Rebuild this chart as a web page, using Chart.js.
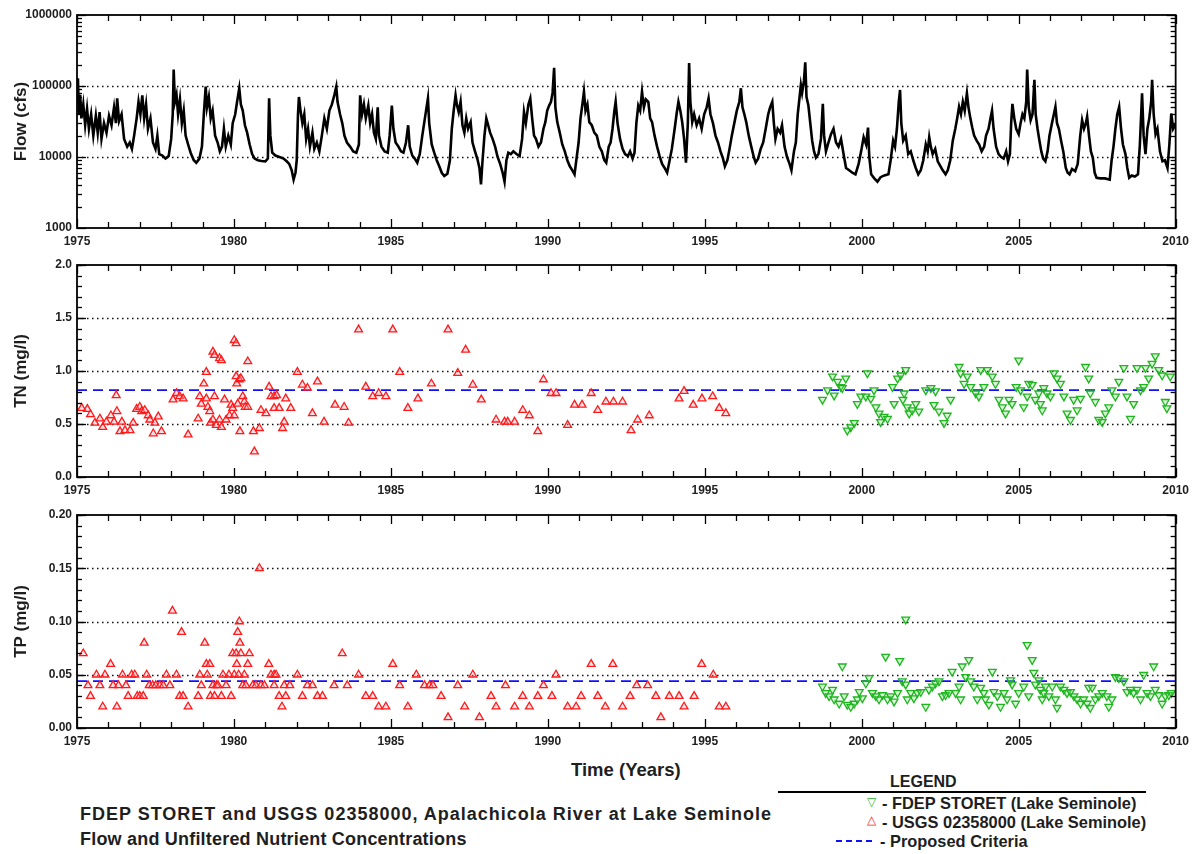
<!DOCTYPE html>
<html>
<head>
<meta charset="utf-8">
<script src="https://cdn.jsdelivr.net/npm/chart.js@4.4.0/dist/chart.umd.min.js"></script>
<style>
  body { margin: 0; background: #fff; font-family: "Liberation Sans", Arial, sans-serif; }
  #page { position: relative; width: 1195px; height: 854px; overflow: hidden; }
  #page canvas { position: absolute; left: 0; }
  .txt { position: absolute; white-space: nowrap; color: #1e1e1e; font-weight: bold; }
</style>
</head>
<body>
<div id="page">
  <canvas id="flowChart" width="1195" height="252" style="top:0"></canvas>
  <canvas id="tnChart" width="1195" height="262" style="top:240px"></canvas>
  <canvas id="tpChart" width="1195" height="262" style="top:490px"></canvas>

  <div class="txt" style="left:571px;top:759px;font-size:18.5px">Time (Years)</div>

  <div class="txt" style="left:80px;top:804px;font-size:18px;letter-spacing:1px">FDEP STORET and USGS 02358000, Apalachicola River at Lake Seminole</div>
  <div class="txt" style="left:80px;top:829px;font-size:18px;letter-spacing:0.2px">Flow and Unfiltered Nutrient Concentrations</div>

  <div class="txt" style="left:890px;top:773px;font-size:16px">LEGEND</div>
  <div style="position:absolute;left:778px;top:791px;width:368px;border-top:2px solid #000"></div>
  <div class="txt" style="left:867px;top:795px;font-size:12px;color:#1fb51f;font-weight:normal">&#9661;</div>
  <div class="txt" style="left:882px;top:794px;font-size:16.4px">- FDEP STORET (Lake Seminole)</div>
  <div class="txt" style="left:867px;top:813px;font-size:12px;color:#ff1a1a;font-weight:normal">&#9651;</div>
  <div class="txt" style="left:882px;top:813px;font-size:16.4px">- USGS 02358000 (Lake Seminole)</div>
  <div style="position:absolute;left:836px;top:840px;width:36px;border-top:2px dashed #1010ff"></div>
  <div class="txt" style="left:880px;top:832px;font-size:16.4px">- Proposed Criteria</div>
</div>

<script>
// axis tick labels
const yearTicks = [1975, 1980, 1985, 1990, 1995, 2000, 2005, 2010];
const flowTicks = [1000, 10000, 100000, 1000000];
const tnTicks = [0, 0.5, 1.0, 1.5, 2.0];
const tpTicks = [0, 0.05, 0.10, 0.15, 0.20];

// proposed criteria
const tnCriteria = 0.82;
const tpCriteria = 0.044;

// flow at the dam, [year, cfs]
const flowSeries = [
  [1975.00,60000],[1975.03,128000],[1975.06,40000],[1975.10,75000],[1975.14,35000],[1975.20,55000],[1975.26,28000],
  [1975.32,48000],[1975.38,25000],[1975.45,40000],[1975.52,20000],[1975.60,38000],[1975.66,22000],[1975.72,43000],
  [1975.78,18000],[1975.86,30000],[1975.94,22000],[1976.02,38000],[1976.10,28000],[1976.18,50000],[1976.24,30000],
  [1976.28,67000],[1976.34,32000],[1976.42,40000],[1976.50,18000],[1976.60,14000],[1976.68,16000],[1976.75,13000],
  [1976.82,20000],[1976.90,35000],[1976.96,60000],[1977.02,40000],[1977.08,74000],[1977.14,35000],[1977.20,55000],
  [1977.26,25000],[1977.34,35000],[1977.42,16000],[1977.50,13000],[1977.56,20000],[1977.62,11000],[1977.72,10500],
  [1977.82,9500],[1977.92,10300],[1978.00,18000],[1978.05,40000],[1978.08,170000],[1978.12,60000],[1978.17,75000],
  [1978.22,40000],[1978.28,65000],[1978.34,30000],[1978.40,45000],[1978.46,20000],[1978.54,15000],[1978.62,11500],
  [1978.72,9000],[1978.80,8300],[1978.90,9500],[1978.98,14000],[1979.04,40000],[1979.10,98000],[1979.14,50000],
  [1979.20,70000],[1979.26,35000],[1979.32,45000],[1979.40,20000],[1979.48,16000],[1979.55,12000],[1979.62,14000],
  [1979.68,25000],[1979.74,14000],[1979.82,20000],[1979.90,15000],[1979.96,30000],[1980.04,40000],[1980.10,60000],
  [1980.17,93000],[1980.22,55000],[1980.28,45000],[1980.35,28000],[1980.42,22000],[1980.50,15000],[1980.58,11000],
  [1980.66,9500],[1980.76,9000],[1980.88,8800],[1981.00,8700],[1981.08,9500],[1981.12,67000],[1981.16,20000],
  [1981.22,11500],[1981.32,10500],[1981.45,10000],[1981.58,9500],[1981.68,8700],[1981.76,8000],[1981.84,6500],
  [1981.90,4800],[1981.96,6000],[1982.00,9000],[1982.04,40000],[1982.07,70000],[1982.12,45000],[1982.18,30000],
  [1982.24,40000],[1982.30,18000],[1982.36,25000],[1982.42,14000],[1982.50,22000],[1982.56,13000],[1982.64,16000],
  [1982.72,12000],[1982.80,20000],[1982.88,35000],[1982.96,25000],[1983.04,45000],[1983.12,55000],[1983.20,75000],
  [1983.26,98000],[1983.30,60000],[1983.38,40000],[1983.45,30000],[1983.52,20000],[1983.60,16000],[1983.70,14000],
  [1983.80,12000],[1983.90,11500],[1983.98,15000],[1984.02,74000],[1984.08,40000],[1984.14,55000],[1984.20,35000],
  [1984.28,53000],[1984.34,30000],[1984.40,40000],[1984.46,22000],[1984.52,18000],[1984.58,50000],[1984.62,20000],
  [1984.70,14000],[1984.80,12000],[1984.90,11500],[1984.96,20000],[1985.03,53000],[1985.08,25000],[1985.15,16000],
  [1985.24,14000],[1985.32,12000],[1985.40,11500],[1985.48,16000],[1985.55,28000],[1985.60,14000],[1985.68,10500],
  [1985.76,9500],[1985.84,8300],[1985.92,11000],[1986.00,20000],[1986.06,30000],[1986.12,45000],[1986.18,67000],
  [1986.22,30000],[1986.30,15000],[1986.38,11500],[1986.46,9000],[1986.54,7400],[1986.62,6000],[1986.70,5400],
  [1986.80,5800],[1986.88,9000],[1986.94,25000],[1987.00,45000],[1987.06,74000],[1987.10,55000],[1987.16,43000],
  [1987.22,60000],[1987.28,28000],[1987.34,22000],[1987.40,35000],[1987.46,25000],[1987.54,31000],[1987.60,16000],
  [1987.68,12000],[1987.76,9200],[1987.82,7000],[1987.87,4100],[1987.92,9000],[1987.98,20000],[1988.04,35000],
  [1988.10,28000],[1988.16,22000],[1988.24,18000],[1988.32,14000],[1988.40,10000],[1988.48,8000],[1988.56,6000],
  [1988.62,4500],[1988.68,9000],[1988.74,11500],[1988.82,11000],[1988.90,12000],[1989.00,11000],[1989.10,10300],
  [1989.18,18000],[1989.24,43000],[1989.30,30000],[1989.38,55000],[1989.44,67000],[1989.50,35000],[1989.56,20000],
  [1989.62,18000],[1989.70,14000],[1989.78,16000],[1989.86,25000],[1989.92,31000],[1989.98,45000],[1990.04,53000],
  [1990.10,60000],[1990.15,80000],[1990.20,180000],[1990.24,50000],[1990.30,31000],[1990.38,22000],[1990.46,15000],
  [1990.54,12000],[1990.62,9000],[1990.70,7400],[1990.78,6500],[1990.85,5700],[1990.92,10000],[1990.98,16000],
  [1991.04,35000],[1991.10,55000],[1991.15,83000],[1991.20,45000],[1991.26,55000],[1991.32,31000],[1991.40,28000],
  [1991.48,22000],[1991.56,20000],[1991.64,14000],[1991.72,12000],[1991.80,9000],[1991.86,8300],[1991.94,14000],
  [1992.00,16000],[1992.06,25000],[1992.12,45000],[1992.16,60000],[1992.22,30000],[1992.30,18000],[1992.38,13000],
  [1992.46,11000],[1992.55,10300],[1992.62,12000],[1992.70,9500],[1992.76,11500],[1992.82,30000],[1992.88,53000],
  [1992.94,45000],[1993.00,83000],[1993.06,50000],[1993.12,65000],[1993.20,60000],[1993.26,35000],[1993.32,31000],
  [1993.40,20000],[1993.48,14000],[1993.56,10300],[1993.64,8000],[1993.72,7000],[1993.80,6000],[1993.88,9000],
  [1993.95,13000],[1994.04,25000],[1994.10,40000],[1994.16,60000],[1994.22,45000],[1994.28,31000],[1994.34,18000],
  [1994.40,8300],[1994.46,30000],[1994.50,210000],[1994.54,60000],[1994.60,31000],[1994.66,40000],[1994.74,28000],
  [1994.82,35000],[1994.90,25000],[1994.98,40000],[1995.06,50000],[1995.12,67000],[1995.18,40000],[1995.26,30000],
  [1995.34,20000],[1995.42,16000],[1995.50,12000],[1995.58,9500],[1995.64,7400],[1995.72,9000],[1995.80,14000],
  [1995.86,20000],[1995.94,30000],[1996.02,45000],[1996.10,60000],[1996.15,93000],[1996.20,50000],[1996.26,40000],
  [1996.32,31000],[1996.40,20000],[1996.48,14000],[1996.56,10000],[1996.62,8300],[1996.70,9500],[1996.78,13000],
  [1996.86,16000],[1996.94,25000],[1997.02,40000],[1997.08,50000],[1997.15,60000],[1997.20,30000],[1997.25,18000],
  [1997.32,25000],[1997.40,22000],[1997.46,28000],[1997.54,14000],[1997.62,10000],[1997.70,8000],[1997.76,6500],
  [1997.84,12000],[1997.90,16000],[1997.96,40000],[1998.02,70000],[1998.06,103000],[1998.10,80000],[1998.16,120000],
  [1998.20,215000],[1998.24,70000],[1998.30,53000],[1998.36,30000],[1998.42,17000],[1998.48,12000],[1998.54,9800],
  [1998.62,11000],[1998.70,18000],[1998.76,56000],[1998.80,20000],[1998.86,12000],[1998.94,16000],[1999.02,21000],
  [1999.10,25000],[1999.18,16000],[1999.26,14000],[1999.34,18000],[1999.42,11000],[1999.50,7000],[1999.60,6500],
  [1999.70,6000],[1999.80,5700],[1999.90,8000],[1999.98,12000],[2000.06,19000],[2000.14,15000],[2000.20,26000],
  [2000.24,10000],[2000.30,5700],[2000.40,5000],[2000.50,4500],[2000.60,5200],[2000.72,5500],[2000.85,5700],
  [2000.92,9000],[2001.00,17000],[2001.06,14000],[2001.12,25000],[2001.18,60000],[2001.22,88000],[2001.26,30000],
  [2001.32,17000],[2001.40,20000],[2001.48,11000],[2001.56,12000],[2001.64,9000],[2001.72,7000],[2001.80,5700],
  [2001.88,6500],[2001.96,9000],[2002.04,15000],[2002.10,12000],[2002.15,19000],[2002.20,14000],[2002.26,11000],
  [2002.34,13000],[2002.42,8700],[2002.50,7500],[2002.58,6500],[2002.67,5700],[2002.74,6500],[2002.82,9000],
  [2002.90,17000],[2002.98,25000],[2003.04,35000],[2003.10,51000],[2003.16,40000],[2003.22,60000],[2003.28,45000],
  [2003.35,79000],[2003.40,50000],[2003.46,35000],[2003.52,26000],[2003.58,20000],[2003.66,17000],[2003.74,15000],
  [2003.82,12000],[2003.90,14000],[2003.96,20000],[2004.04,25000],[2004.10,35000],[2004.15,45000],[2004.20,25000],
  [2004.28,14000],[2004.36,11000],[2004.44,10000],[2004.52,9500],[2004.60,12000],[2004.66,8700],[2004.72,11000],
  [2004.76,30000],[2004.80,56000],[2004.86,35000],[2004.92,25000],[2005.00,21000],[2005.06,30000],[2005.12,40000],
  [2005.18,35000],[2005.24,60000],[2005.27,170000],[2005.32,50000],[2005.38,33000],[2005.44,40000],[2005.50,122000],
  [2005.54,40000],[2005.60,25000],[2005.66,17000],[2005.72,12000],[2005.78,9500],[2005.85,8700],[2005.92,12000],
  [2005.98,20000],[2006.06,30000],[2006.12,40000],[2006.17,51000],[2006.22,30000],[2006.28,25000],[2006.35,17000],
  [2006.42,12000],[2006.50,7000],[2006.56,6000],[2006.62,5700],[2006.70,6800],[2006.80,6300],[2006.88,8000],
  [2006.96,20000],[2007.02,33000],[2007.08,25000],[2007.14,30000],[2007.18,37000],[2007.24,20000],[2007.30,12000],
  [2007.36,9800],[2007.42,6000],[2007.48,5100],[2007.60,5000],[2007.75,5000],[2007.90,4800],[2007.96,9000],
  [2008.02,14000],[2008.08,25000],[2008.14,40000],[2008.20,51000],[2008.26,25000],[2008.32,15000],[2008.40,11000],
  [2008.46,7000],[2008.52,5100],[2008.60,5500],[2008.70,5300],[2008.80,5700],[2008.86,15000],[2008.93,79000],
  [2008.98,20000],[2009.04,11000],[2009.10,25000],[2009.16,35000],[2009.22,60000],[2009.25,122000],[2009.30,40000],
  [2009.36,21000],[2009.42,25000],[2009.50,12000],[2009.58,8700],[2009.66,9000],[2009.74,7000],[2009.80,15000],
  [2009.86,41000],[2009.92,25000],[2010.00,29000]
];

// USGS 02358000 total nitrogen, [year, mg/l]
const tnUsgs = [
  [1975.15,0.65],[1975.33,0.64],[1975.43,0.59],[1975.57,0.51],[1975.73,0.55],[1975.82,0.47],[1975.94,0.52],
  [1976.08,0.58],[1976.18,0.52],[1976.25,0.77],[1976.27,0.62],[1976.37,0.43],[1976.43,0.52],[1976.53,0.44],
  [1976.69,0.44],[1976.79,0.51],[1976.90,0.64],[1977.00,0.66],[1977.06,0.62],[1977.16,0.63],[1977.27,0.58],
  [1977.32,0.54],[1977.43,0.41],[1977.48,0.51],[1977.59,0.57],[1977.69,0.43],[1978.06,0.73],[1978.17,0.79],
  [1978.27,0.76],[1978.38,0.74],[1978.54,0.40],[1978.86,0.55],[1978.91,0.76],[1978.96,0.69],[1979.04,0.88],
  [1979.12,0.99],[1979.12,0.74],[1979.17,0.66],[1979.23,0.62],[1979.25,0.51],[1979.33,1.18],[1979.38,1.15],
  [1979.38,0.76],[1979.33,0.54],[1979.44,0.49],[1979.54,1.12],[1979.60,1.10],[1979.54,0.54],[1979.60,0.47],
  [1979.70,0.73],[1979.75,0.54],[1979.86,0.58],[1979.91,0.68],[1979.96,0.65],[1980.01,1.29],[1980.07,1.26],
  [1980.01,0.58],[1980.07,0.95],[1980.09,0.88],[1980.12,0.69],[1980.17,0.92],[1980.19,0.43],[1980.22,0.93],
  [1980.28,0.76],[1980.33,0.71],[1980.36,0.66],[1980.44,1.09],[1980.44,0.66],[1980.62,0.43],[1980.65,0.24],
  [1980.81,0.46],[1980.86,0.63],[1981.02,0.60],[1981.12,0.85],[1981.18,0.76],[1981.28,0.76],[1981.36,0.77],
  [1981.28,0.65],[1981.44,0.65],[1981.55,0.46],[1981.60,0.52],[1981.65,0.74],[1981.81,0.65],[1982.02,0.99],
  [1982.18,0.87],[1982.34,0.84],[1982.50,0.60],[1982.66,0.90],[1982.87,0.52],[1983.22,0.68],[1983.51,0.66],
  [1983.65,0.51],[1983.97,1.39],[1984.20,0.85],[1984.42,0.76],[1984.61,0.79],[1984.84,0.76],[1985.06,1.39],
  [1985.28,0.99],[1985.54,0.65],[1985.86,0.74],[1986.29,0.88],[1986.82,1.39],[1987.13,0.98],[1987.38,1.20],
  [1987.61,0.87],[1987.88,0.73],[1988.19,2.13],[1988.35,0.54],[1988.62,0.52],[1988.72,0.52],[1988.94,0.52],
  [1989.20,0.63],[1989.41,0.58],[1989.68,0.43],[1989.86,0.92],[1990.10,0.79],[1990.26,0.79],[1990.63,0.49],
  [1990.85,0.68],[1991.09,0.68],[1991.38,0.79],[1991.59,0.63],[1991.85,0.71],[1992.09,0.71],[1992.38,0.71],
  [1992.65,0.44],[1992.86,0.54],[1993.23,0.58],[1994.18,0.74],[1994.34,0.81],[1994.63,0.68],[1994.91,0.74],
  [1995.25,0.76],[1995.46,0.65],[1995.67,0.60]
];

// FDEP STORET total nitrogen, [year, mg/l]
const tnStoret = [
  [1998.75,0.73],[1998.91,0.82],[1999.07,0.95],[1999.12,0.77],[1999.23,0.90],[1999.33,0.85],[1999.38,0.84],
  [1999.49,0.93],[1999.54,0.44],[1999.65,0.47],[1999.76,0.51],[1999.86,0.69],[1999.97,0.76],[2000.18,0.98],
  [2000.13,0.76],[2000.29,0.74],[2000.39,0.82],[2000.45,0.66],[2000.55,0.60],[2000.60,0.52],[2000.71,0.57],
  [2000.82,0.55],[2000.98,0.85],[2001.03,0.69],[2001.14,0.93],[2001.24,0.96],[2001.40,1.01],[2001.35,0.79],
  [2001.31,0.73],[2001.45,0.66],[2001.51,0.60],[2001.61,0.63],[2001.72,0.69],[2001.82,0.62],[2002.04,0.82],
  [2002.20,0.84],[2002.30,0.68],[2002.35,0.81],[2002.46,0.62],[2002.62,0.51],[2002.72,0.58],[2002.83,0.73],
  [2003.10,1.04],[2003.15,0.98],[2003.26,0.88],[2003.36,0.95],[2003.47,0.85],[2003.63,0.79],[2003.73,0.76],
  [2003.79,1.01],[2003.89,0.85],[2004.00,1.01],[2004.16,0.95],[2004.26,0.88],[2004.37,0.73],[2004.48,0.66],
  [2004.58,0.60],[2004.69,0.73],[2004.79,0.69],[2004.92,0.85],[2005.00,1.10],[2005.06,0.82],[2005.16,0.66],
  [2005.27,0.76],[2005.32,0.88],[2005.43,0.87],[2005.53,0.73],[2005.64,0.79],[2005.69,0.69],[2005.75,0.63],
  [2005.80,0.84],[2005.90,0.79],[2006.01,0.76],[2006.12,0.98],[2006.22,0.93],[2006.33,0.88],[2006.44,0.76],
  [2006.54,0.60],[2006.65,0.54],[2006.75,0.73],[2006.86,0.63],[2006.97,0.74],[2007.13,1.04],[2007.23,0.93],
  [2007.28,0.79],[2007.44,0.71],[2007.55,0.54],[2007.66,0.52],[2007.76,0.60],[2007.87,0.66],[2007.97,0.82],
  [2008.08,0.76],[2008.19,0.90],[2008.35,1.03],[2008.45,0.76],[2008.56,0.55],[2008.66,0.69],[2008.77,1.03],
  [2008.88,0.82],[2008.98,0.85],[2009.04,1.03],[2009.14,0.93],[2009.25,1.07],[2009.35,1.14],[2009.46,1.01],
  [2009.57,0.96],[2009.67,0.71],[2009.72,0.65],[2009.83,0.95]
];

// USGS 02358000 total phosphorus, [year, mg/l]
const tpUsgs = [
  [1975.20,0.07],[1975.35,0.04],[1975.43,0.03],[1975.62,0.05],[1975.73,0.04],[1975.82,0.02],[1975.89,0.05],
  [1976.07,0.06],[1976.15,0.04],[1976.27,0.02],[1976.32,0.04],[1976.45,0.05],[1976.56,0.04],[1976.63,0.03],
  [1976.74,0.05],[1976.84,0.05],[1976.92,0.03],[1977.00,0.03],[1977.11,0.03],[1977.14,0.08],[1977.22,0.05],
  [1977.30,0.04],[1977.41,0.04],[1977.51,0.04],[1977.64,0.04],[1977.75,0.04],[1977.85,0.05],[1977.96,0.04],
  [1978.04,0.11],[1978.17,0.05],[1978.27,0.03],[1978.33,0.09],[1978.38,0.03],[1978.54,0.02],[1978.86,0.03],
  [1978.91,0.05],[1978.96,0.04],[1979.07,0.08],[1979.12,0.06],[1979.15,0.05],[1979.23,0.06],[1979.25,0.03],
  [1979.33,0.04],[1979.38,0.03],[1979.44,0.04],[1979.49,0.04],[1979.60,0.03],[1979.65,0.05],[1979.75,0.04],
  [1979.84,0.05],[1979.91,0.03],[1979.96,0.07],[1980.01,0.05],[1980.07,0.07],[1980.09,0.06],[1980.12,0.09],
  [1980.15,0.05],[1980.17,0.10],[1980.19,0.08],[1980.22,0.07],[1980.28,0.04],[1980.33,0.05],[1980.38,0.04],
  [1980.44,0.06],[1980.49,0.07],[1980.60,0.04],[1980.70,0.04],[1980.81,0.15],[1980.86,0.04],[1980.97,0.04],
  [1981.11,0.06],[1981.18,0.05],[1981.28,0.05],[1981.34,0.05],[1981.28,0.04],[1981.44,0.03],[1981.53,0.02],
  [1981.60,0.04],[1981.65,0.03],[1981.78,0.04],[1982.02,0.05],[1982.18,0.03],[1982.34,0.04],[1982.50,0.04],
  [1982.66,0.03],[1982.82,0.03],[1983.19,0.04],[1983.45,0.07],[1983.61,0.04],[1983.97,0.05],[1984.20,0.03],
  [1984.42,0.03],[1984.61,0.02],[1984.84,0.02],[1985.06,0.06],[1985.28,0.04],[1985.54,0.02],[1985.81,0.05],
  [1986.07,0.04],[1986.23,0.04],[1986.34,0.04],[1986.60,0.03],[1986.82,0.01],[1987.13,0.04],[1987.35,0.02],
  [1987.61,0.05],[1987.82,0.01],[1988.19,0.03],[1988.35,0.02],[1988.65,0.04],[1988.94,0.02],[1989.20,0.03],
  [1989.41,0.02],[1989.68,0.03],[1989.86,0.04],[1990.13,0.03],[1990.26,0.05],[1990.63,0.02],[1990.90,0.02],
  [1991.06,0.03],[1991.38,0.06],[1991.59,0.03],[1991.83,0.02],[1992.07,0.06],[1992.38,0.02],[1992.62,0.03],
  [1992.83,0.04],[1993.18,0.04],[1993.44,0.03],[1993.60,0.01],[1993.87,0.03],[1994.18,0.03],[1994.34,0.02],
  [1994.66,0.03],[1994.90,0.06],[1995.27,0.05],[1995.46,0.02],[1995.67,0.02]
];

// FDEP STORET total phosphorus, [year, mg/l]
const tpStoret = [
  [1998.75,0.039],[1998.85,0.033],[1998.96,0.030],[1999.07,0.036],[1999.12,0.027],[1999.28,0.023],[1999.38,0.058],
  [1999.44,0.030],[1999.54,0.022],[1999.65,0.020],[1999.76,0.023],[1999.86,0.027],[1999.92,0.034],[2000.02,0.028],
  [2000.13,0.042],[2000.23,0.047],[2000.34,0.033],[2000.45,0.030],[2000.55,0.027],[2000.66,0.031],[2000.76,0.067],
  [2000.82,0.027],[2000.92,0.030],[2001.03,0.025],[2001.14,0.033],[2001.21,0.063],[2001.29,0.044],[2001.40,0.102],
  [2001.40,0.041],[2001.45,0.027],[2001.56,0.033],[2001.66,0.028],[2001.77,0.033],[2001.88,0.034],[2002.04,0.020],
  [2002.14,0.036],[2002.25,0.039],[2002.35,0.042],[2002.46,0.044],[2002.57,0.030],[2002.67,0.031],[2002.78,0.033],
  [2002.88,0.053],[2002.99,0.033],[2003.10,0.039],[2003.15,0.027],[2003.20,0.058],[2003.31,0.048],[2003.41,0.064],
  [2003.47,0.044],[2003.57,0.039],[2003.68,0.027],[2003.79,0.038],[2003.89,0.033],[2003.94,0.027],[2004.05,0.022],
  [2004.16,0.053],[2004.21,0.034],[2004.32,0.030],[2004.42,0.020],[2004.53,0.033],[2004.63,0.027],[2004.74,0.045],
  [2004.79,0.041],[2004.90,0.023],[2005.00,0.033],[2005.16,0.039],[2005.27,0.078],[2005.32,0.030],[2005.43,0.064],
  [2005.48,0.052],[2005.53,0.041],[2005.64,0.045],[2005.69,0.036],[2005.75,0.027],[2005.80,0.033],[2005.85,0.039],
  [2005.96,0.030],[2006.07,0.039],[2006.17,0.027],[2006.22,0.019],[2006.33,0.039],[2006.44,0.036],[2006.54,0.033],
  [2006.65,0.034],[2006.76,0.030],[2006.86,0.027],[2006.97,0.023],[2007.07,0.027],[2007.18,0.023],[2007.28,0.019],
  [2007.23,0.038],[2007.34,0.038],[2007.44,0.027],[2007.55,0.030],[2007.66,0.033],[2007.81,0.030],[2007.87,0.020],
  [2007.97,0.027],[2008.08,0.048],[2008.19,0.047],[2008.35,0.044],[2008.45,0.034],[2008.56,0.036],[2008.66,0.033],
  [2008.77,0.036],[2008.88,0.027],[2008.98,0.050],[2009.09,0.033],[2009.20,0.030],[2009.30,0.058],[2009.35,0.036],
  [2009.46,0.031],[2009.57,0.023],[2009.67,0.030],[2009.78,0.031],[2009.86,0.033]
];

const X_MIN = 1975, X_MAX = 2010;
const tickFont = { family: '"Liberation Sans", Arial, sans-serif', size: 12, weight: 'bold' };
const titleFont = { family: '"Liberation Sans", Arial, sans-serif', size: 17, weight: 'bold' };
const inkColor = '#1e1e1e';

const toXY = pairs => pairs.map(p => ({ x: p[0], y: p[1] }));
const flatLine = v => [{ x: X_MIN, y: v }, { x: X_MAX, y: v }];

// frame, inward tick marks on all four sides and dotted reference lines
const framePlugin = {
  id: 'frame',
  beforeDatasetsDraw(chart, args, o) {
    const { ctx, chartArea: a, scales: { y } } = chart;
    ctx.save();
    ctx.strokeStyle = '#111';
    ctx.lineWidth = 1.5;
    ctx.setLineDash([1.5, 3.5]);
    o.grid.forEach(v => {
      const py = Math.round(y.getPixelForValue(v)) + 0.5;
      ctx.beginPath(); ctx.moveTo(a.left, py); ctx.lineTo(a.right, py); ctx.stroke();
    });
    ctx.restore();
  },
  afterDraw(chart, args, o) {
    const { ctx, chartArea: a, scales: { x, y } } = chart;
    const seg = (x1, y1, x2, y2) => { ctx.beginPath(); ctx.moveTo(x1, y1); ctx.lineTo(x2, y2); ctx.stroke(); };
    ctx.save();
    ctx.strokeStyle = '#000';
    ctx.lineWidth = 1.3;
    for (let yr = X_MIN; yr <= X_MAX; yr++) {
      const px = Math.round(x.getPixelForValue(yr)) + 0.5;
      const len = yr % 5 === 0 ? 9 : 6;
      seg(px, a.bottom, px, a.bottom - len);
      seg(px, a.top, px, a.top + len);
    }
    o.minor.forEach(v => {
      const py = Math.round(y.getPixelForValue(v)) + 0.5;
      seg(a.left, py, a.left + 5, py);
      seg(a.right, py, a.right - 5, py);
    });
    o.major.forEach(v => {
      const py = Math.round(y.getPixelForValue(v)) + 0.5;
      seg(a.left, py, a.left + 9, py);
      seg(a.right, py, a.right - 9, py);
    });
    ctx.lineWidth = 1.8;
    ctx.strokeRect(a.left, a.top, a.width, a.height);
    ctx.restore();
  }
};

function panelOptions(cfg) {
  return {
    responsive: false,
    animation: false,
    devicePixelRatio: 1,
    events: [],
    layout: { padding: { top: cfg.top, right: 18, left: 0, bottom: 0 } },
    plugins: {
      legend: { display: false },
      tooltip: { enabled: false },
      frame: { grid: cfg.ticks.slice(1, -1), major: cfg.ticks, minor: cfg.minor }
    },
    scales: {
      x: {
        type: 'linear', min: X_MIN, max: X_MAX,
        afterBuildTicks: s => { s.ticks = yearTicks.map(v => ({ value: v })); },
        afterFit: s => { s.height = cfg.xh; },
        grid: { display: false, drawTicks: false },
        border: { display: false },
        ticks: { padding: 6, autoSkip: false, maxRotation: 0, font: tickFont, color: inkColor, callback: v => String(v) }
      },
      y: {
        type: cfg.type, min: cfg.ticks[0], max: cfg.ticks[cfg.ticks.length - 1],
        afterBuildTicks: s => { s.ticks = cfg.ticks.map(v => ({ value: v })); },
        afterFit: s => { s.width = 77; },
        grid: { display: false, drawTicks: false },
        border: { display: false },
        title: { display: true, text: cfg.title, font: titleFont, color: inkColor, padding: { top: 11, bottom: 0 } },
        ticks: { padding: 5, autoSkip: false, font: tickFont, color: inkColor, callback: cfg.fmt }
      }
    }
  };
}

const usgsStyle = {
  pointStyle: 'triangle', pointRadius: 4.5, borderWidth: 1.3,
  borderColor: '#ff1a1a', backgroundColor: 'rgba(255,170,190,0.35)', clip: false
};
const storetStyle = {
  pointStyle: 'triangle', pointRotation: 180, pointRadius: 4.5, borderWidth: 1.3,
  borderColor: '#1fb51f', backgroundColor: 'rgba(120,220,120,0.3)', clip: false
};
const criteriaStyle = {
  showLine: true, pointRadius: 0, borderColor: '#1010ff', borderWidth: 1.7, borderDash: [10, 6]
};

// minor ticks: log decades for flow, tenths / hundredths for the nutrients
const flowMinor = [];
for (let d = 1000; d < 1000000; d *= 10) for (let k = 2; k <= 9; k++) flowMinor.push(k * d);
const tnMinor = [];
for (let i = 0; i <= 20; i++) tnMinor.push(i / 10);
const tpMinor = [];
for (let i = 0; i <= 20; i++) tpMinor.push(i / 100);

new Chart(document.getElementById('flowChart'), {
  type: 'scatter',
  data: {
    datasets: [{
      data: toXY(flowSeries), showLine: true, pointRadius: 0,
      borderColor: '#000', borderWidth: 2.6
    }]
  },
  options: panelOptions({
    top: 15, xh: 24, type: 'logarithmic', ticks: flowTicks, minor: flowMinor,
    title: 'Flow (cfs)', fmt: v => String(v)
  }),
  plugins: [framePlugin]
});

new Chart(document.getElementById('tnChart'), {
  type: 'scatter',
  data: {
    datasets: [
      Object.assign({ data: toXY(tnUsgs) }, usgsStyle),
      Object.assign({ data: toXY(tnStoret) }, storetStyle),
      Object.assign({ data: flatLine(tnCriteria) }, criteriaStyle)
    ]
  },
  options: panelOptions({
    top: 25, xh: 25, type: 'linear', ticks: tnTicks, minor: tnMinor,
    title: 'TN (mg/l)', fmt: v => v.toFixed(1)
  }),
  plugins: [framePlugin]
});

new Chart(document.getElementById('tpChart'), {
  type: 'scatter',
  data: {
    datasets: [
      Object.assign({ data: toXY(tpUsgs) }, usgsStyle),
      Object.assign({ data: toXY(tpStoret) }, storetStyle),
      Object.assign({ data: flatLine(tpCriteria) }, criteriaStyle)
    ]
  },
  options: panelOptions({
    top: 25, xh: 24, type: 'linear', ticks: tpTicks, minor: tpMinor,
    title: 'TP (mg/l)', fmt: v => v.toFixed(2)
  }),
  plugins: [framePlugin]
});
</script>
</body>
</html>
